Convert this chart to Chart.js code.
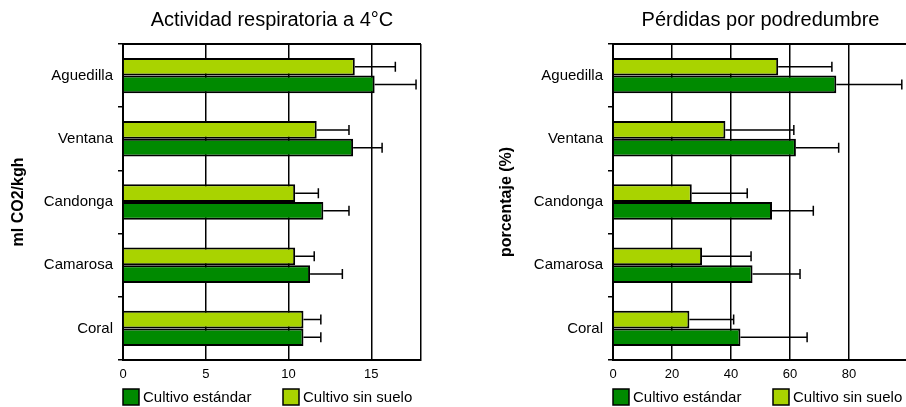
<!DOCTYPE html>
<html><head><meta charset="utf-8">
<script src="https://cdn.jsdelivr.net/npm/chart.js@4"></script>
<style>
html,body{margin:0;padding:0;background:#fff;overflow:hidden;width:906px;height:407px;position:relative;}
canvas{position:absolute;top:0;}
#c1{left:0}
#c2{left:453px}
</style></head><body>
<canvas id="c1" width="453" height="407"></canvas>
<canvas id="c2" width="464" height="407" style="width:464px;height:407px"></canvas>
<script>
const categories = ['Aguedilla', 'Ventana', 'Candonga', 'Camarosa', 'Coral'];
const seriesNames = ['Cultivo estándar', 'Cultivo sin suelo'];

const respEstandar = [15.2, 13.9, 12.1, 11.3, 10.9];
const respEstandarErr = [2.5, 1.75, 1.55, 1.95, 1.05];
const respSinSuelo = [14.0, 11.7, 10.4, 10.4, 10.9];
const respSinSueloErr = [2.45, 1.95, 1.4, 1.15, 1.05];

const perdEstandar = [75.7, 62.0, 53.9, 47.3, 43.2];
const perdEstandarErr = [22.2, 14.5, 14.0, 16.1, 22.6];
const perdSinSuelo = [56.0, 38.1, 26.7, 30.2, 25.9];
const perdSinSueloErr = [18.2, 23.2, 18.8, 16.6, 15.0];

const DARK = '#008A00';
const LIGHT = '#A9D300';

Chart.defaults.font.family = "'Liberation Sans', Arial, sans-serif";
Chart.defaults.color = '#000';

const errorBars = {
  id: 'errorBars',
  afterDatasetsDraw(chart) {
    const ctx = chart.ctx;
    const xs = chart.scales.x;
    ctx.save();
    ctx.strokeStyle = '#000';
    ctx.lineWidth = 1.5;
    chart.data.datasets.forEach((ds, i) => {
      const meta = chart.getDatasetMeta(i);
      meta.data.forEach((bar, j) => {
        const v = ds.data[j], e = ds.errors[j];
        const px = xs.getPixelForValue(v + e);
        ctx.beginPath();
        ctx.moveTo(bar.x, bar.y);
        ctx.lineTo(px, bar.y);
        ctx.moveTo(px, bar.y - 5);
        ctx.lineTo(px, bar.y + 5);
        ctx.stroke();
      });
    });
    ctx.restore();
  }
};

const frameLegend = {
  id: 'frameLegend',
  afterDraw(chart) {
    const ctx = chart.ctx;
    const a = chart.chartArea;
    ctx.save();
    ctx.strokeStyle = '#000';
    ctx.lineWidth = 2;
    ctx.beginPath();
    ctx.moveTo(a.left, a.top);
    ctx.lineTo(a.right, a.top);
    ctx.stroke();
    const items = [[seriesNames[0], DARK], [seriesNames[1], LIGHT]];
    ctx.lineWidth = 1.5;
    items.forEach((it, k) => {
      const x = a.left + k * 160;
      const y = 389;
      ctx.fillStyle = it[1];
      ctx.fillRect(x, y, 16, 16);
      ctx.strokeRect(x, y, 16, 16);
      ctx.fillStyle = '#000';
      ctx.font = "15px 'Liberation Sans', Arial, sans-serif";
      ctx.textBaseline = 'middle';
      ctx.textAlign = 'left';
      ctx.fillText(it[0], x + 20, y + 8.5);
    });
    ctx.restore();
  }
};

function makeChart(id, o) {
  return new Chart(document.getElementById(id), {
    type: 'bar',
    data: {
      labels: categories,
      datasets: [
        { label: seriesNames[1], data: o.sin, errors: o.sinErr, backgroundColor: LIGHT, borderColor: '#000', borderWidth: 2 },
        { label: seriesNames[0], data: o.est, errors: o.estErr, backgroundColor: DARK, borderColor: '#000', borderWidth: 2 }
      ]
    },
    options: {
      indexAxis: 'y',
      responsive: false,
      animation: false,
      categoryPercentage: 0.56,
      barPercentage: 1.0,
      layout: { padding: { top: 0, left: 0, right: o.rp, bottom: 25 } },
      plugins: {
        legend: { display: false },
        tooltip: { enabled: false },
        title: {
          display: true, text: o.title, fullSize: false, color: '#000',
          font: { size: 20, weight: 'normal' },
          padding: { top: 8, bottom: 12 }
        }
      },
      scales: {
        x: {
          type: 'linear', min: 0, max: o.max,
          ticks: { stepSize: o.step, color: '#000', font: { size: 13 }, padding: 7,
                   callback: (v) => v === o.max ? '' : v },
          grid: { color: '#000', lineWidth: 1.5, drawTicks: false },
          border: { display: true, color: '#000', width: 2 },
          afterFit(s) { s.height = 22; }
        },
        y: {
          type: 'category',
          grid: { offset: true, drawOnChartArea: false, drawTicks: true, tickLength: 5, color: '#000', lineWidth: 1.5 },
          border: { display: true, color: '#000', width: 2 },
          ticks: { color: '#000', font: { size: 15 }, padding: 5 },
          title: { display: true, text: o.yTitle, color: '#000', font: { size: 16, weight: 'bold' },
                   padding: { top: o.yTitlePad, bottom: 0 } },
          afterFit(s) { s.width = o.yWidth; }
        }
      }
    },
    plugins: [errorBars, frameLegend]
  });
}

makeChart('c1', {
  title: 'Actividad respiratoria a 4°C', yTitle: 'ml CO2/kgh',
  est: respEstandar, estErr: respEstandarErr, sin: respSinSuelo, sinErr: respSinSueloErr,
  max: 18, step: 5, rp: 32, yWidth: 123, yTitlePad: 9
});
makeChart('c2', {
  title: 'Pérdidas por podredumbre', yTitle: 'porcentaje (%)',
  est: perdEstandar, estErr: perdEstandarErr, sin: perdSinSuelo, sinErr: perdSinSueloErr,
  max: 100, step: 20, rp: 9, yWidth: 160, yTitlePad: 44
});
</script>
</body></html>
